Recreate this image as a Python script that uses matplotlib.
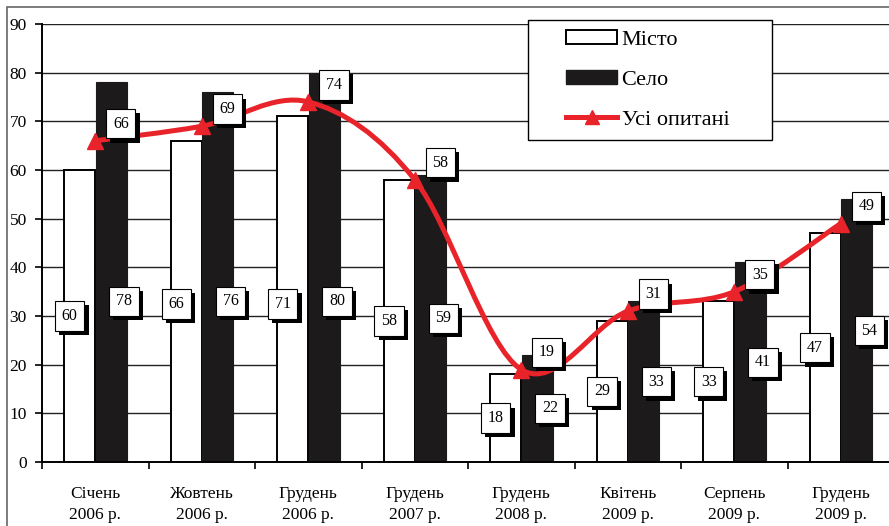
import numpy as np
import matplotlib.pyplot as plt
from matplotlib.path import Path
from matplotlib.patches import PathPatch, Rectangle
from matplotlib.lines import Line2D
from matplotlib import patheffects

plt.rcParams['font.family'] = ['Liberation Serif', 'DejaVu Serif']

categories = ['Січень\n2006 р.', 'Жовтень\n2006 р.', 'Грудень\n2006 р.', 'Грудень\n2007 р.',
              'Грудень\n2008 р.', 'Квітень\n2009 р.', 'Серпень\n2009 р.', 'Грудень\n2009 р.']
misto = [60, 66, 71, 58, 18, 29, 33, 47]
selo = [78, 76, 80, 59, 22, 33, 41, 54]
usi = [66, 69, 74, 58, 19, 31, 35, 49]

RED = '#e8232a'
DARK = '#1c1a1b'

fig = plt.figure(figsize=(8.89, 5.26), dpi=100)
W, H = 889, 526
# outer frame
fig.patches.append(Rectangle((7 / W, -0.1), 1.2, (526 - 7) / H + 0.1, transform=fig.transFigure,
                             fill=False, edgecolor='#666666', lw=1.2))

ax = fig.add_axes([42 / W, (526 - 462) / H, 852 / W, 438 / H])
x = np.arange(len(categories))
bw = 0.29
ax.bar(x - bw / 2, misto, width=bw, facecolor='white', edgecolor='black', lw=1.4, zorder=2)
ax.bar(x + bw / 2 + 0.005, selo, width=bw, facecolor=DARK, edgecolor=DARK, lw=0.8, zorder=2)

# smooth line (Bezier segments through the points)
pts = np.column_stack([x, usi]).astype(float)
ext = np.vstack([pts[0], pts, pts[-1]])
verts = [tuple(pts[0])]
codes = [Path.MOVETO]
for i in range(len(pts) - 1):
    p0, p1, p2, p3 = ext[i], ext[i + 1], ext[i + 2], ext[i + 3]
    c1 = p1 + (p2 - p0) / 6
    c2 = p2 - (p3 - p1) / 6
    verts += [tuple(c1), tuple(c2), tuple(p2)]
    codes += [Path.CURVE4] * 3
ax.add_patch(PathPatch(Path(verts, codes), facecolor='none', edgecolor=RED, lw=3.6,
                       capstyle='round', zorder=4))
ax.plot(x, usi, ls='none', marker='^', ms=11, color=RED, zorder=4)

def box_label(xp, yp, s):
    t = ax.text(xp, yp, str(s), ha='center', va='center', fontsize=11.5, zorder=6,
                bbox=dict(boxstyle='square,pad=0.42', facecolor='white', edgecolor='black', lw=0.8))
    t.get_bbox_patch().set_path_effects([
        patheffects.SimplePatchShadow(offset=(3, -3), shadow_rgbFace='black', alpha=1.0),
        patheffects.Normal()])

for i in range(len(categories)):
    box_label(x[i] - 0.24, min(misto[i] * 0.5, 32.5), misto[i])
    box_label(x[i] + 0.27, min(selo[i] * 0.5, 33), selo[i])
    box_label(x[i] + 0.24, usi[i] + 3.5, usi[i])

ax.set_xlim(-0.5, len(categories) - 0.5)
ax.set_ylim(0, 90)
ax.set_yticks(range(0, 91, 10))
ax.yaxis.grid(True, color='#222222', lw=1.0, zorder=0)
ax.set_axisbelow(True)
ax.set_xticks(x)
ax.set_xticklabels(categories, fontsize=12.5, linespacing=1.42)
ax.set_xticks(np.arange(-0.5, len(categories), 1), minor=True)
ax.tick_params(axis='x', which='major', length=0, pad=17)
ax.tick_params(axis='x', which='minor', length=5, width=1.2, direction='out')
ax.tick_params(axis='y', length=5, width=1.2, labelsize=12.5, pad=6)
for side in ['top', 'right']:
    ax.spines[side].set_visible(False)
ax.spines['left'].set_linewidth(1.4)
ax.spines['bottom'].set_linewidth(1.4)

# legend frame
fig.patches.append(Rectangle((528 / W, 1 - 140 / H), 244 / W, 120 / H, transform=fig.transFigure,
                             facecolor='white', edgecolor='black', lw=1.0, zorder=3))
handles = [Rectangle((0, 0), 1, 1, facecolor='white', edgecolor='black', lw=1.4),
           Rectangle((0, 0), 1, 1, facecolor=DARK, edgecolor=DARK),
           Line2D([], [], color=RED, lw=3.6, marker='^', ms=10)]
leg = fig.legend(handles, ['Місто', 'Село', 'Усі опитані'], loc='upper left',
                 bbox_to_anchor=(566 / W, 1 - 30 / H), fontsize=16, frameon=False,
                 handlelength=2.3, handleheight=0.6, labelspacing=0.9, borderpad=0,
                 borderaxespad=0, handletextpad=0.2)
leg.set_zorder(5)

fig.savefig('out.png', dpi=100)
